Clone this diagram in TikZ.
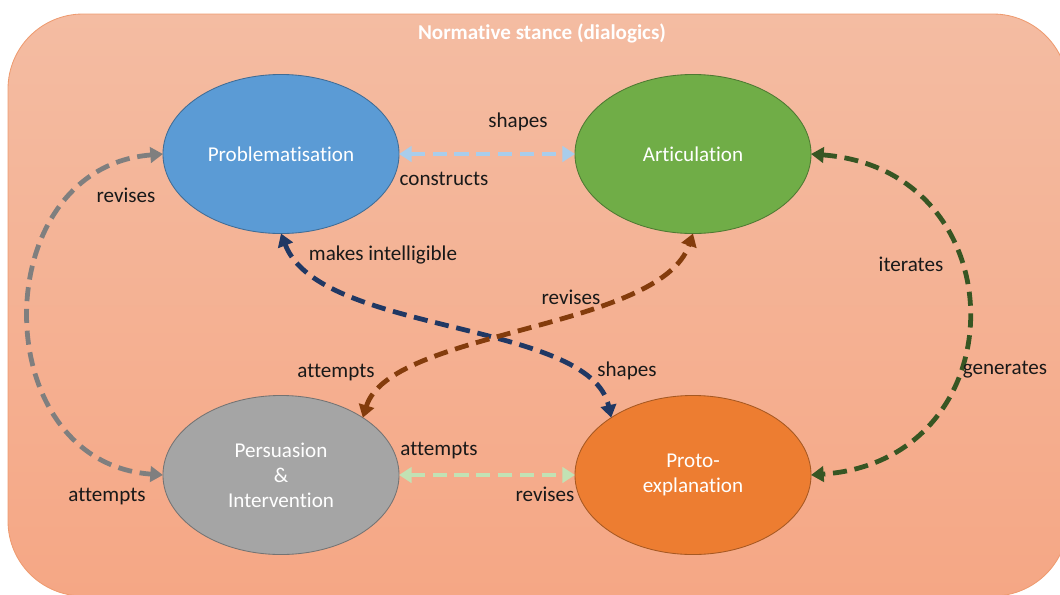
\documentclass[tikz,border=0pt]{standalone}
\usepackage{fontspec}
\setmainfont{Carlito}[Ligatures={NoCommon,NoRequired,NoContextual}]
\usepackage{tikz}
\usetikzlibrary{arrows.meta,shapes.geometric}

\definecolor{bgtop}{HTML}{F4BCA2}
\definecolor{bgbottom}{HTML}{F5A785}
\definecolor{bgline}{HTML}{EE9B70}
\definecolor{probblue}{HTML}{5B9BD5}
\definecolor{artgreen}{HTML}{70AD47}
\definecolor{persgray}{HTML}{A5A5A5}
\definecolor{protoorange}{HTML}{ED7D31}
\definecolor{paleblue}{HTML}{A9CDEB}
\definecolor{palegreen}{HTML}{C2E2B4}
\definecolor{midgray}{HTML}{7F7F7F}
\definecolor{navy}{HTML}{203864}
\definecolor{rust}{HTML}{843C0C}
\definecolor{forest}{HTML}{375623}

\begin{document}
\begin{tikzpicture}[x=0.025cm,y=-0.025cm,
    stage/.style={ellipse,draw,line width=0.6pt,minimum width=5.9cm,minimum height=3.975cm,
      inner sep=0pt,outer sep=0pt,text=white,align=center,font=\fontsize{15}{17.8}\selectfont},
    verb/.style={text=black!90,font=\fontsize{15}{17}\selectfont,inner sep=1pt},
    link/.style={line width=3.4pt,dash pattern=on 10pt off 5.5pt,
      {Triangle[length=9pt,width=11pt]}-{Triangle[length=9pt,width=11pt]}}]
  \useasboundingbox (0,0) rectangle (1060,594);
  % Draw box
  \shade[top color=bgtop,bottom color=bgbottom,draw=bgline,line width=0.6pt,rounded corners=1.875cm]
    (8,14) rectangle (1068,596);
  \node[text=white,font=\bfseries\fontsize{15}{17}\selectfont] (title) at (542,33) {Normative stance (dialogics)};
  % Draw the four stages
  \node[stage,fill=probblue,draw=probblue!70!black] (prob) at (281,154) {Problematisation};
  \node[stage,fill=artgreen,draw=artgreen!70!black] (art) at (693,154) {Articulation};
  \node[stage,fill=persgray,draw=persgray!70!black] (pers) at (281,475) {Persuasion\\\&\\Intervention};
  \node[stage,fill=protoorange,draw=protoorange!70!black] (proto) at (693,475) {Proto-\\explanation};
  % Straight links
  \draw[link,paleblue] (prob.east) -- (art.west);
  \node[verb] (shapesA) at (518,122) {shapes};
  \node[verb] (constructs) at (444,179) {constructs};
  \draw[link,palegreen] (pers.east) -- (proto.west);
  \node[verb] (attemptsA) at (439,451) {attempts};
  \node[verb] (revisesA) at (545,494) {revises};
  % Outer loops
  \draw[link,midgray] (prob.west) .. controls (-15,168) and (-15,462) .. (pers.west);
  \node[verb] (revisesB) at (126,195) {revises};
  \node[verb] (attemptsB) at (107,497) {attempts};
  \draw[link,forest] (art.east) .. controls (1020,170) and (1020,460) .. (proto.east);
  \node[verb] (iterates) at (911,264) {iterates};
  \node[verb] (generates) at (1005,370) {generates};
  % Crossing links
  \draw[link,navy] (prob.south) .. controls (320,335) and (590,320) .. (proto.145);
  \node[verb] (intelligible) at (383,255) {makes intelligible};
  \node[verb] (shapesB) at (627,371) {shapes};
  \draw[link,rust] (pers.35) .. controls (390,330) and (660,330) .. (art.south);
  \node[verb] (revisesC) at (571,297) {revises};
  \node[verb] (attemptsC) at (336,373) {attempts};
\end{tikzpicture}
\end{document}
